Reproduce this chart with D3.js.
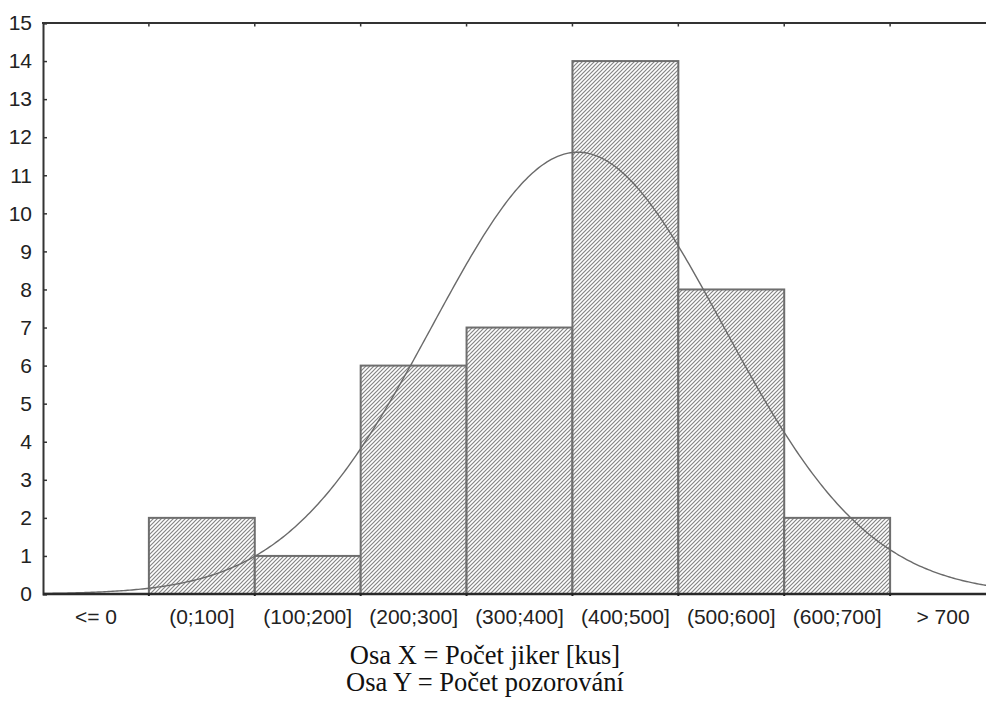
<!DOCTYPE html>
<html>
<head>
<meta charset="utf-8">
<script src="https://cdn.jsdelivr.net/npm/d3@7"></script>
<style>
  html, body { margin: 0; padding: 0; background: #fff; }
  svg { display: block; }
</style>
</head>
<body>
<svg id="chart" width="986" height="703"></svg>
<script>
// Histogram categories (class intervals) and observed counts
const categories = ["<= 0", "(0;100]", "(100;200]", "(200;300]", "(300;400]", "(400;500]", "(500;600]", "(600;700]", "> 700"];
const counts = [0, 2, 1, 6, 7, 14, 8, 2, 0];
const yTicks = d3.range(0, 16);
// Fitted normal curve parameters (in kus)
const normalMean = 405;
const normalSd = 137.5;
const binWidth = 100;
const axisTitles = ["Osa X = Počet jiker [kus]", "Osa Y = Počet pozorování"];

const svg = d3.select("#chart");
const W = 986, H = 703;
const plot = { left: 43, right: 996, top: 23, bottom: 594 };

const x = d3.scaleBand().domain(categories).range([plot.left, plot.right]).padding(0);
const y = d3.scaleLinear().domain([0, 15]).range([plot.bottom, plot.top]);
// continuous value axis: 0 kus sits at the start of the "(0;100]" class
const bw = x.bandwidth();
const xv = d3.scaleLinear().domain([0, binWidth]).range([x(categories[1]), x(categories[1]) + bw]);

// hatch pattern
const defs = svg.append("defs");
const pat = defs.append("pattern")
  .attr("id", "hatch").attr("patternUnits", "userSpaceOnUse")
  .attr("width", 4).attr("height", 4);
pat.append("rect").attr("width", 4).attr("height", 4).attr("fill", "#fff");
pat.append("path")
  .attr("d", "M-1,1 l2,-2 M0,4 l4,-4 M3,5 l2,-2")
  .attr("stroke", "#858585").attr("stroke-width", 1.2);

const clip = defs.append("clipPath").attr("id", "plotclip");
clip.append("rect").attr("x", plot.left).attr("y", plot.top - 2)
  .attr("width", W - plot.left).attr("height", plot.bottom - plot.top + 2);

// bars
svg.append("g").selectAll("rect")
  .data(categories.map((c, i) => ({ c, v: counts[i] })).filter(d => d.v > 0))
  .join("rect")
  .attr("x", d => x(d.c))
  .attr("y", d => y(d.v))
  .attr("width", bw)
  .attr("height", d => y(0) - y(d.v))
  .attr("fill", "url(#hatch)")
  .attr("stroke", "#6e6e6e")
  .attr("stroke-width", 2);

// expected normal frequencies
const total = d3.sum(counts);
const pdf = v => Math.exp(-0.5 * ((v - normalMean) / normalSd) ** 2) / (normalSd * Math.sqrt(2 * Math.PI));
const vMin = xv.invert(plot.left), vMax = xv.invert(plot.right);
const curvePts = d3.range(vMin, vMax + 1, 2).map(v => [v, total * binWidth * pdf(v)]);
svg.append("path")
  .attr("clip-path", "url(#plotclip)")
  .attr("d", d3.line().x(d => xv(d[0])).y(d => y(d[1])).curve(d3.curveLinear)(curvePts))
  .attr("fill", "none")
  .attr("stroke", "#6a6a6a")
  .attr("stroke-width", 1.4);

// y axis with inward ticks
const yAxis = svg.append("g")
  .attr("transform", `translate(${plot.left},0)`)
  .call(d3.axisLeft(y).tickValues(yTicks).tickSize(-4).tickPadding(11).tickFormat(d3.format("d")));
yAxis.select(".domain").attr("stroke", "#333").attr("stroke-width", 2);
yAxis.selectAll(".tick line").attr("stroke", "#333").attr("stroke-width", 1.5);
yAxis.selectAll("text")
  .attr("font-family", "Liberation Sans, Arial, sans-serif")
  .attr("font-size", 21).attr("fill", "#222");

// x axis: category labels under each band
const xAxis = svg.append("g")
  .attr("transform", `translate(0,${plot.bottom})`)
  .call(d3.axisBottom(x).tickSize(0).tickPadding(15));
xAxis.select(".domain").remove();
xAxis.selectAll("text")
  .attr("font-family", "Liberation Sans, Arial, sans-serif")
  .attr("font-size", 21).attr("fill", "#222");

// baseline
svg.append("line")
  .attr("x1", plot.left).attr("x2", W).attr("y1", plot.bottom).attr("y2", plot.bottom)
  .attr("stroke", "#2a2a2a").attr("stroke-width", 2.5);

// top frame line
svg.append("line")
  .attr("x1", plot.left - 1).attr("x2", W).attr("y1", plot.top).attr("y2", plot.top)
  .attr("stroke", "#333").attr("stroke-width", 2);

// small ticks at class boundaries (top and bottom)
const bounds = categories.slice(1).map(c => x(c));
svg.append("g").selectAll("line.tt").data(bounds).join("line")
  .attr("x1", d => d).attr("x2", d => d)
  .attr("y1", plot.top).attr("y2", plot.top + 3.5)
  .attr("stroke", "#333").attr("stroke-width", 1.5);
svg.append("g").selectAll("line.bt").data(bounds).join("line")
  .attr("x1", d => d).attr("x2", d => d)
  .attr("y1", plot.bottom).attr("y2", plot.bottom + 2)
  .attr("stroke", "#222").attr("stroke-width", 2);

// axis titles
svg.append("g").selectAll("text").data(axisTitles).join("text")
  .attr("x", 485)
  .attr("y", (d, i) => 664 + i * 27)
  .attr("text-anchor", "middle")
  .attr("font-family", "Liberation Serif, Times New Roman, serif")
  .attr("font-size", 26.5)
  .attr("fill", "#111")
  .text(d => d);
</script>
</body>
</html>
